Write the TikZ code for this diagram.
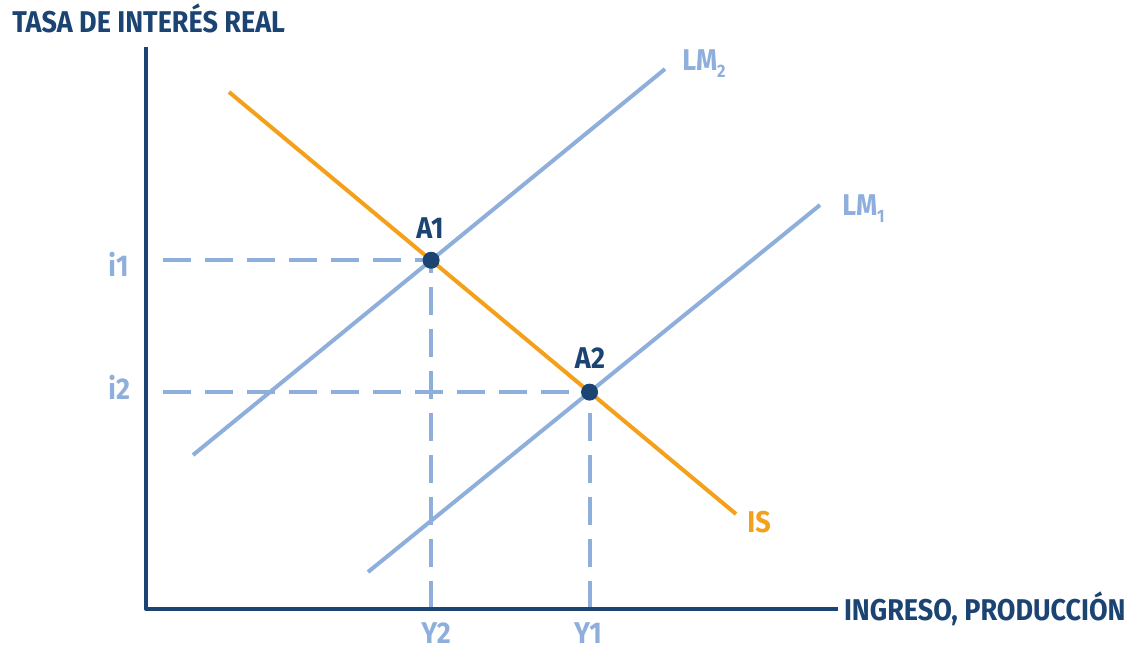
\documentclass[tikz,border=0pt]{standalone}
\usepackage{fontspec}
\setmainfont{Fira Sans}[FakeStretch=0.9]
\usetikzlibrary{intersections}

\definecolor{navy}{HTML}{1B4472}
\definecolor{lmblue}{HTML}{8EAEDC}
\definecolor{isorange}{HTML}{F5A01A}

\begin{document}
\begin{tikzpicture}[
    x=0.5pt, y=-0.5pt,
    line join=round,
    % estilos
    axis/.style={navy, line width=2pt},
    curve/.style={line width=2pt},
    guide/.style={lmblue, line width=2pt, dash pattern=on 14pt off 7pt},
    punto/.style={circle, fill=navy, inner sep=0pt, minimum size=8.5pt},
    etiq/.style={inner sep=0pt, font=\bfseries\fontsize{15}{15}\selectfont},
]
    \useasboundingbox (0,0) rectangle (1144,650);

    % origen y ejes
    \coordinate (O) at (146,609);
    \coordinate (Ytop) at (146,47);
    \coordinate (Xend) at (838,609);

    % ---- curvas (caminos con nombre) ----
    \path[name path=lm2] (193,455) -- (665,69);
    \path[name path=lm1] (368,572) -- (820,205);
    \path[name path=is]  (229,92) -- (736,514);

    \path[name intersections={of=lm2 and is, by=P1}];
    \path[name intersections={of=lm1 and is, by=P2}];

    % ---- lineas guia (discontinuas) ----
    \coordinate (i1) at (163,0 |- P1);
    \coordinate (i2) at (163,0 |- P2);
    \path (P1 |- O) coordinate (y2);
    \path (P2 |- O) coordinate (y1);
    \draw[guide] (i1) -- (P1);
    \draw[guide] (i2) -- (P2);
    \draw[guide] (y2) -- (P1);
    \draw[guide] (y1) -- (P2);

    % ---- LM e IS ----
    \draw[curve, lmblue] (193,455) -- (665,69);
    \draw[curve, lmblue] (368,572) -- (820,205);
    \draw[curve, isorange] (229,92) -- (736,514);

    % ---- ejes ----
    \draw[axis] (Ytop) -- (O) -- (Xend);

    % ---- puntos de equilibrio ----
    \node[punto] (A1) at (P1) {};
    \node[punto] (A2) at (P2) {};

    % etiquetas
    \node[etiq, navy, anchor=base west] (ytitle) at (12,32) {TASA DE INTERÉS REAL};
    \node[etiq, navy, anchor=base east] (xtitle) at (1126,620) {INGRESO, PRODUCCIÓN};
    \node[etiq, navy, anchor=base] (lA1) at (430,238) {A1};
    \node[etiq, navy, anchor=base] (lA2) at (590,368) {A2};
    \node[etiq, lmblue, anchor=base west] (li1) at (108,276) {i1};
    \node[etiq, lmblue, anchor=base west] (li2) at (108,399) {i2};
    \node[etiq, lmblue, anchor=base] (lY2) at (436,643) {Y2};
    \node[etiq, lmblue, anchor=base] (lY1) at (588,643) {Y1};
    \node[etiq, lmblue, anchor=base west] (lLM2) at (682,70)
        {LM\raisebox{-0.5ex}{\fontsize{9}{9}\selectfont 2}};
    \node[etiq, lmblue, anchor=base west] (lLM1) at (842,215)
        {LM\raisebox{-0.5ex}{\fontsize{9}{9}\selectfont 1}};
    \node[etiq, isorange, anchor=base west] (lIS) at (747,532) {IS};

\end{tikzpicture}
\end{document}
